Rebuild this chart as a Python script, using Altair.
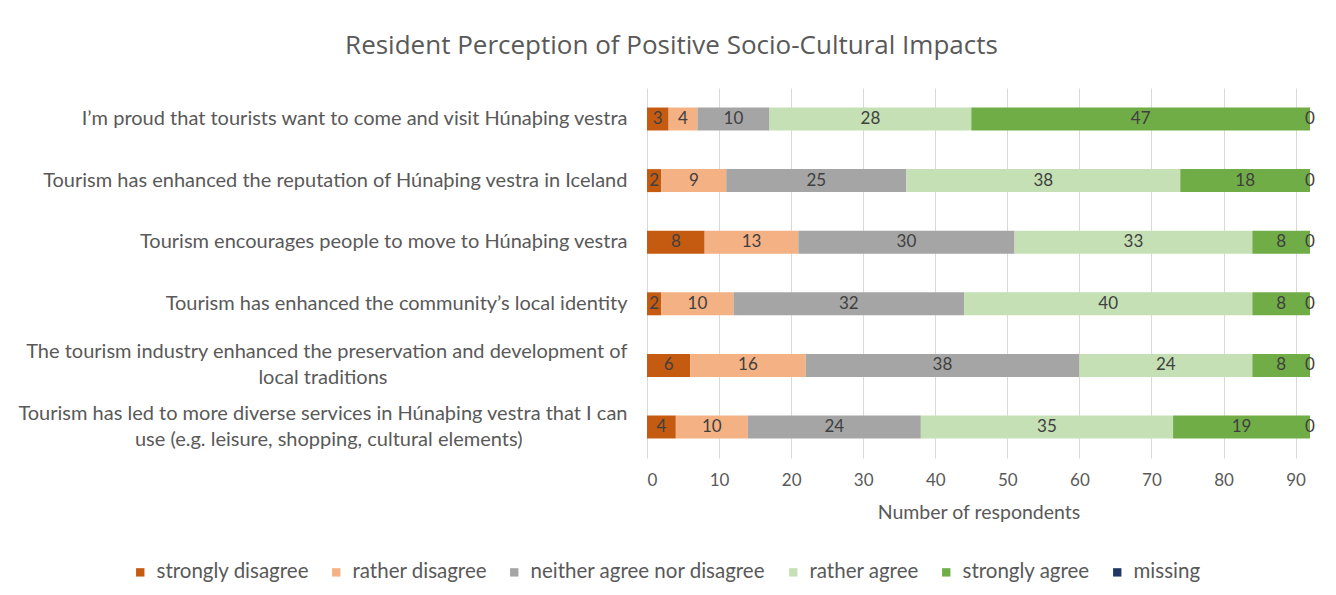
import altair as alt
import pandas as pd

questions = [
    "I’m proud that tourists want to come and visit Húnaþing vestra",
    "Tourism has enhanced the reputation of Húnaþing vestra in Iceland",
    "Tourism encourages people to move to Húnaþing vestra",
    "Tourism has enhanced the community’s local identity",
    "The tourism industry enhanced the preservation and development of|local traditions",
    "Tourism has led to more diverse services in Húnaþing vestra that I can|use (e.g. leisure, shopping, cultural elements)",
]
categories = ["strongly disagree", "rather disagree", "neither agree nor disagree",
              "rather agree", "strongly agree", "missing"]
colors = ["#C55A11", "#F4B183", "#A5A5A5", "#C5E0B4", "#70AD47", "#203864"]

strongly_disagree = [3, 2, 8, 2, 6, 4]
rather_disagree = [4, 9, 13, 10, 16, 10]
neither = [10, 25, 30, 32, 38, 24]
rather_agree = [28, 38, 33, 40, 24, 35]
strongly_agree = [47, 18, 8, 8, 8, 19]
missing = [0, 0, 0, 0, 0, 0]

# trailing blank characters so the wrapped second line sits centred under the first
second_line_pad = [0, 0, 0, 0, 16, 7]
display = [q + "\u2800" * n for q, n in zip(questions, second_line_pad)]

series = [strongly_disagree, rather_disagree, neither, rather_agree, strongly_agree, missing]
rows = []
for ci, (cat, vals) in enumerate(zip(categories, series)):
    for qi, q in enumerate(display):
        rows.append({"question": q, "category": cat, "order": ci, "count": vals[qi]})
df = pd.DataFrame(rows)

FONT = "Lato"
GRAY = "#595959"

base = alt.Chart(df).transform_stack(
    stack="count", groupby=["question"], sort=[alt.SortField("order")], as_=["x0", "x1"]
).transform_calculate(mid="(datum.x0 + datum.x1) / 2")

yenc = alt.Y(
    "question:N", sort=display, title=None,
    scale=alt.Scale(paddingInner=0.627, paddingOuter=0.317),
    axis=alt.Axis(
        labelExpr="split(datum.label, '|')", labelAlign="right", labelPadding=20,
        ticks=False, domain=False, labelLimit=900, labelFontSize=20, labelColor=GRAY,
        labelFont=FONT, minExtent=634, maxExtent=634, labelLineHeight=26,
        labelOffset={"condition": {"test": "indexof(datum.value, '|') >= 0", "value": -13},
                     "value": 0},
    ),
)

bars = base.mark_bar().encode(
    x=alt.X("x0:Q", title="Number of respondents",
            scale=alt.Scale(domain=[0, 92], nice=False),
            axis=alt.Axis(values=list(range(0, 100, 10)), grid=True, gridColor="#D9D9D9",
                          domain=False, ticks=False, labelPadding=14, labelFontSize=17,
                          labelColor=GRAY, labelFont=FONT, titleFontSize=19.5,
                          titleColor=GRAY, titleFont=FONT, titleFontWeight="normal",
                          titlePadding=15)),
    x2="x1:Q",
    y=yenc,
    color=alt.Color("category:N", sort=categories,
                    scale=alt.Scale(domain=categories, range=colors),
                    legend=alt.Legend(title=None, orient="none", direction="horizontal",
                                      legendX=-517, legendY=474, symbolType="square",
                                      symbolSize=70, symbolStrokeWidth=0, labelLimit=400,
                                      labelFontSize=20.5, labelColor=GRAY, labelFont=FONT,
                                      columnPadding=17, labelOffset=6)),
    order=alt.Order("order:Q"),
)

labels = base.mark_text(fontSize=17, color="#404040", font=FONT).encode(
    x=alt.X("mid:Q"),
    y=alt.Y("question:N", sort=display),
    text=alt.Text("count:Q"),
)

chart = alt.layer(bars, labels).properties(
    width=663, height=370,
    padding={"left": 5, "top": 25, "right": 10, "bottom": 5},
    title=alt.TitleParams("Resident Perception of Positive Socio-Cultural Impacts",
                          fontSize=26, font="Open Sans", color=GRAY, fontWeight="normal",
                          anchor="middle", offset=29, dx=-307),
).configure_view(stroke=None)

chart.save("out.html", embed_options={"renderer": "svg", "actions": False})
